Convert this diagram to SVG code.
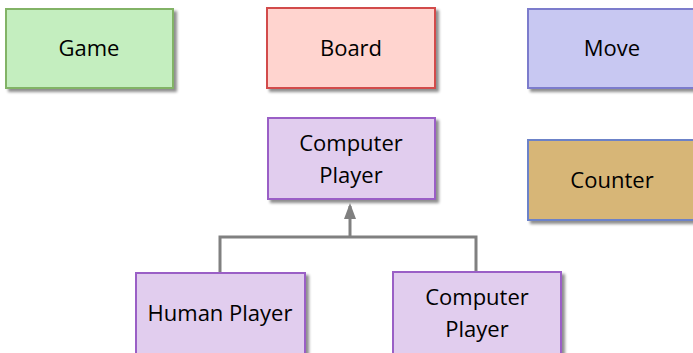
<svg xmlns="http://www.w3.org/2000/svg" width="693" height="353" viewBox="0 0 693 353">
<defs>
<filter id="sh" x="-10%" y="-10%" width="130%" height="140%">
<feGaussianBlur in="SourceAlpha" stdDeviation="1.5"/>
<feOffset dx="3" dy="3" result="b"/>
<feComponentTransfer><feFuncA type="linear" slope="0.45"/></feComponentTransfer>
<feMerge><feMergeNode/><feMergeNode in="SourceGraphic"/></feMerge>
</filter>
<marker id="arr" viewBox="0 0 16 12" refX="13" refY="6" markerWidth="16" markerHeight="12" markerUnits="userSpaceOnUse" orient="auto">
<path d="M16 6 L0 0 L0 12 Z" fill="#7f7f7f"/>
</marker>
</defs>
<style>
.box{stroke-width:2;filter:url(#sh)}
.t{font-family:"Open Sans","Lato","Liberation Sans",sans-serif;font-size:22px;fill:#000000;text-anchor:middle}
.c{fill:none;stroke:#808080;stroke-width:3}
</style>
<rect width="693" height="353" fill="#ffffff"/>
<g id="game"><rect class="box" x="6" y="9" width="167" height="79" fill="#c4eebf" stroke="#82b366"/><text class="t" x="89" y="56">Game</text></g>
<g id="board"><rect class="box" x="267" y="8" width="168" height="80" fill="#ffd4cf" stroke="#d24b4b"/><text class="t" x="351" y="56">Board</text></g>
<g id="move"><rect class="box" x="528" y="9" width="175" height="79" fill="#c8c8f2" stroke="#7c7ccc"/><text class="t" x="612" y="56">Move</text></g>
<g id="counter"><rect class="box" x="528" y="140" width="175" height="80" fill="#d7b677" stroke="#6c82c8"/><text class="t" x="612" y="188">Counter</text></g>
<g id="computer-player-top"><rect class="box" x="268" y="118" width="167" height="81" fill="#e1cdee" stroke="#9a5ec6"/><text class="t" x="351" y="151">Computer</text><text class="t" x="351" y="183">Player</text></g>
<g id="human-player"><rect class="box" x="136" y="273" width="169" height="90" fill="#e1cdee" stroke="#9a5ec6"/><text class="t" x="220" y="321">Human Player</text></g>
<g id="computer-player-bottom"><rect class="box" x="393" y="272" width="168" height="90" fill="#e1cdee" stroke="#9a5ec6"/><text class="t" x="477" y="305">Computer</text><text class="t" x="477" y="337">Player</text></g>
<g id="connectors">
<path class="c" d="M220 272 V237 H476 V271"/>
<path class="c" d="M350 237 V206" marker-end="url(#arr)"/>
</g>
</svg>
